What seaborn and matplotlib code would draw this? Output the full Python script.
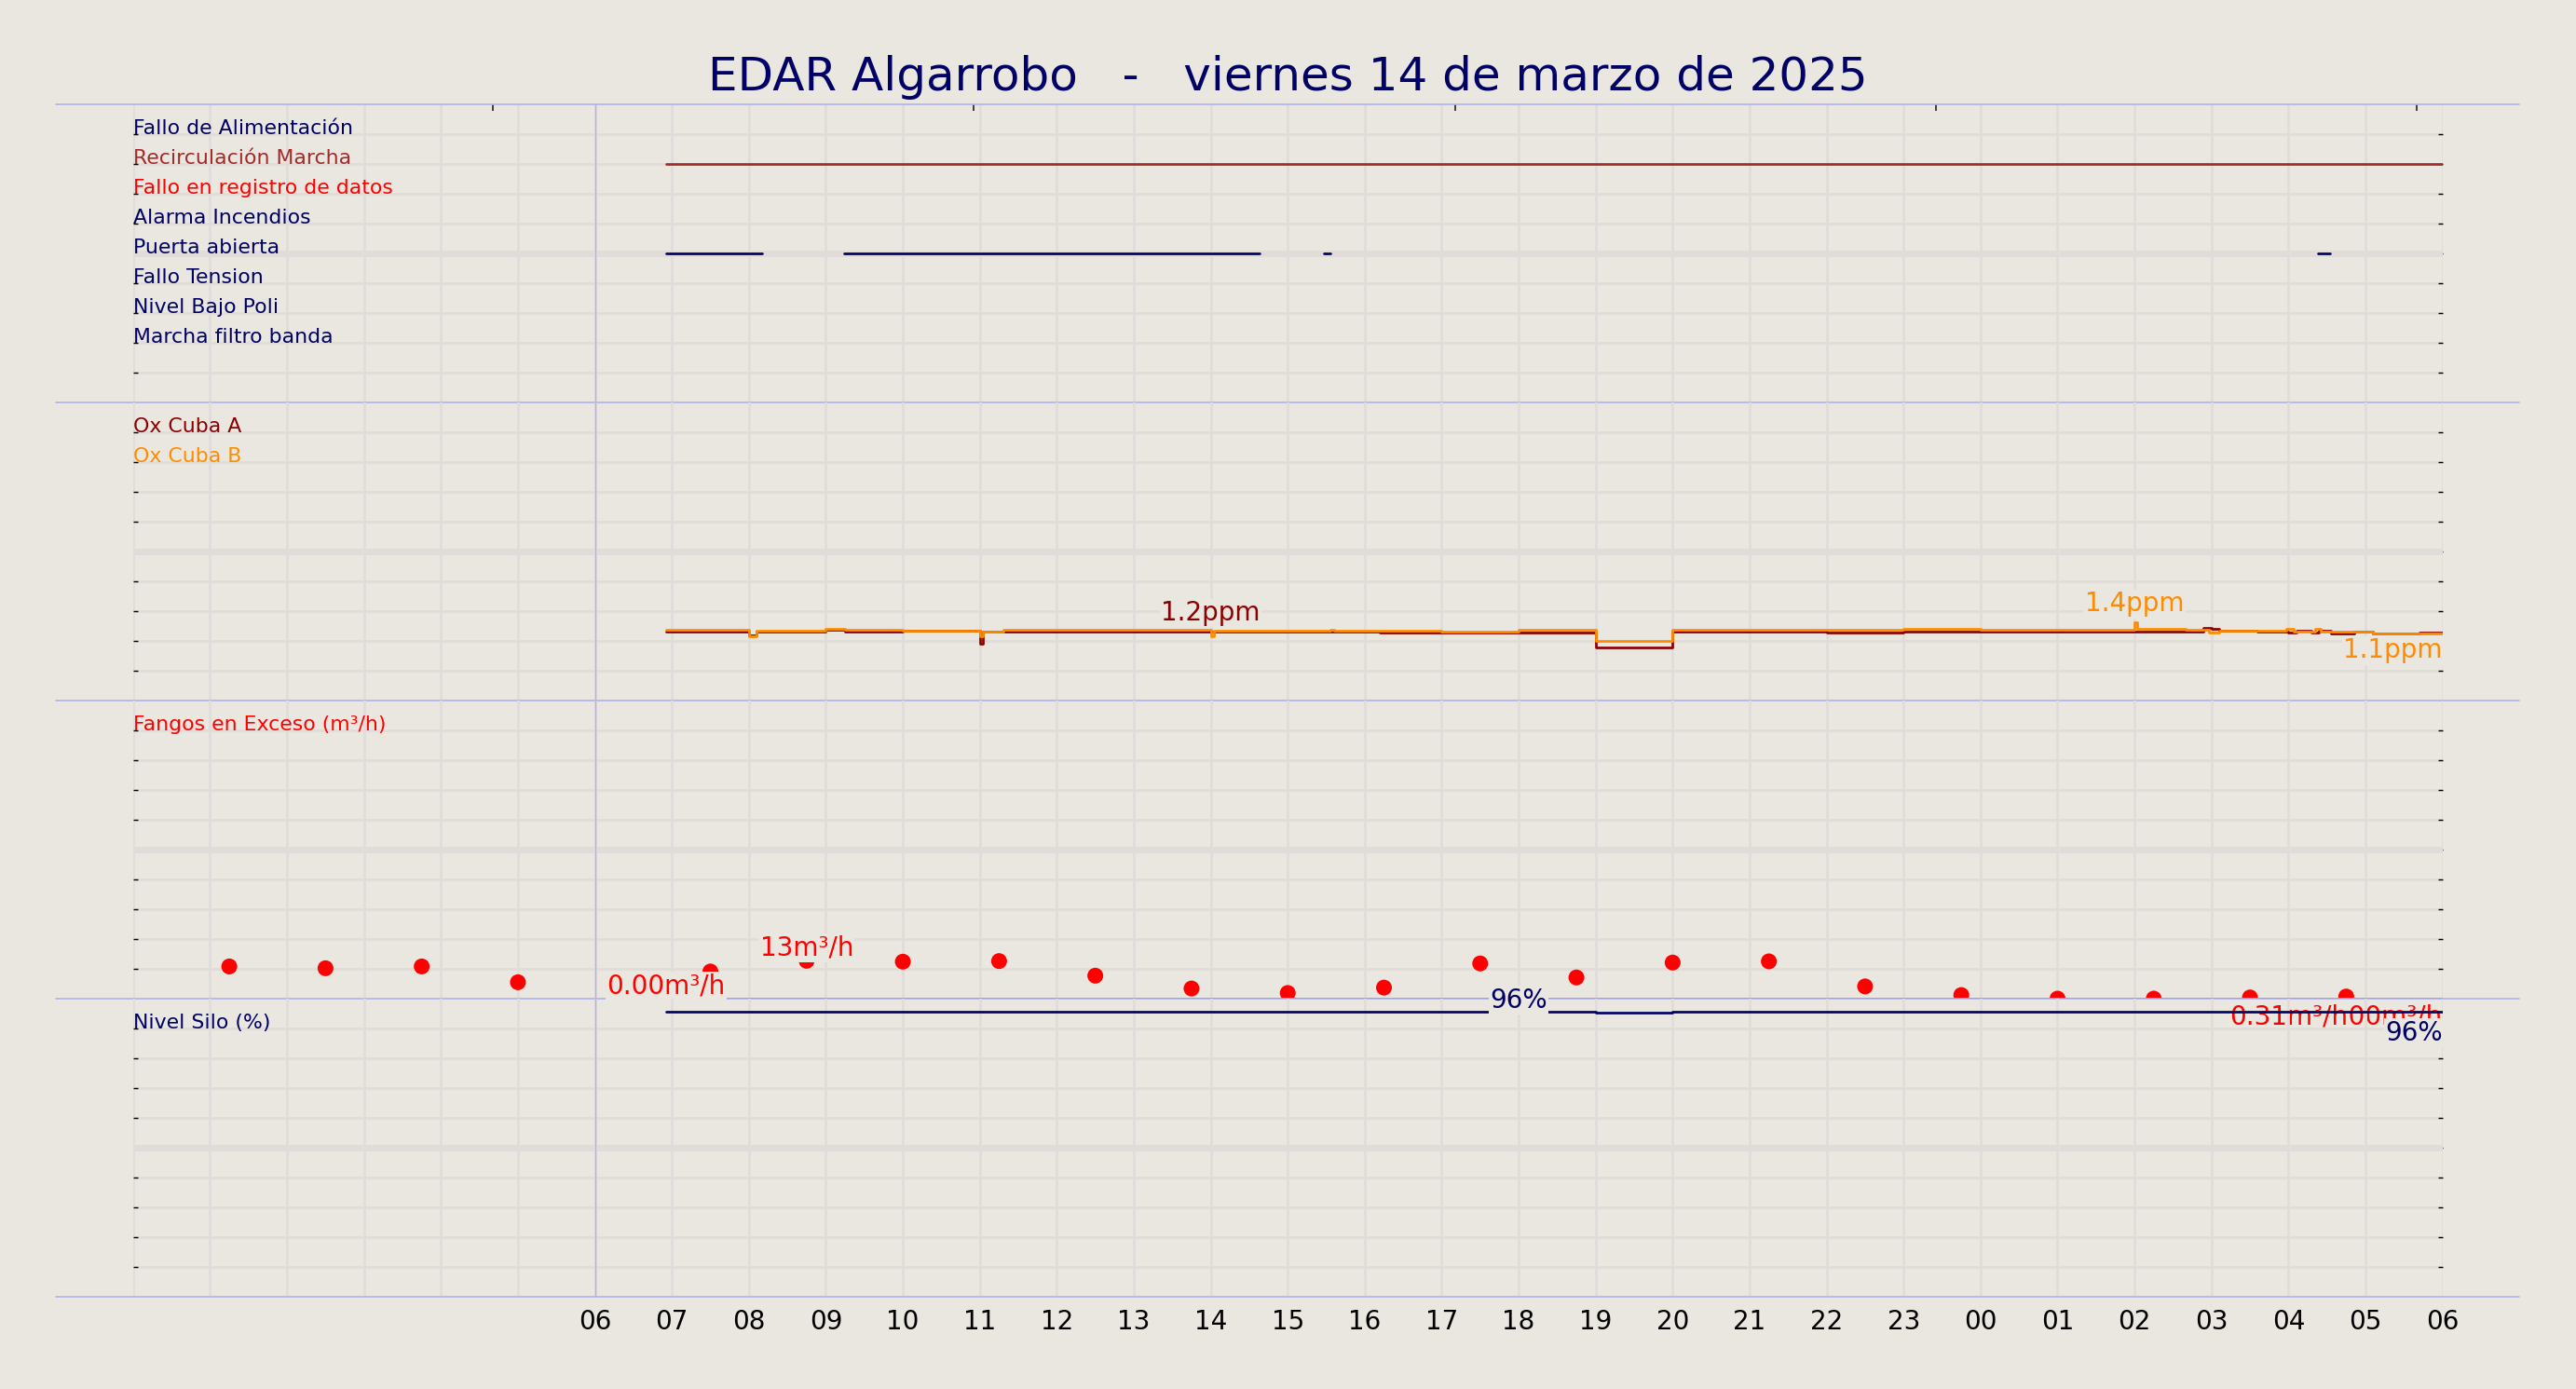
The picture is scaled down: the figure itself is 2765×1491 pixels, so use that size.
import numpy as np
import pandas as pd
import matplotlib
matplotlib.use("Agg")
import matplotlib.pyplot as plt
import seaborn as sns

# ------------------------------------------------------------------ data
TITLE = "EDAR Algarrobo   -   viernes 14 de marzo de 2025"

hour_ticks = list(range(0, 31))
hour_labels = ["", "", "", "", "", "",
               "06", "07", "08", "09", "10", "11", "12", "13", "14", "15",
               "16", "17", "18", "19", "20", "21", "22", "23",
               "00", "01", "02", "03", "04", "05", "06"]

status_names = ["Fallo de Alimentación", "Recirculación Marcha",
                "Fallo en registro de datos", "Alarma Incendios",
                "Puerta abierta", "Fallo Tension", "Nivel Bajo Poli",
                "Marcha filtro banda"]
status_colors = ["#000066", "#a52a2a", "#ff0000", "#000066",
                 "#000066", "#000066", "#000066", "#000066"]
status_levels = [9, 8, 7, 6, 5, 4, 3, 2]

recirc_start = [6.92]
recirc_end = [30.0]
puerta_start = [6.92, 9.24, 15.47, 28.38]
puerta_end = [8.17, 14.63, 15.55, 28.54]

oxa_t = [6.92, 8.0, 8.1, 9.0, 9.25, 10.0, 11.0, 11.04, 11.3, 14.0, 16.2,
         17.0, 18.0, 19.0, 20.0, 22.0, 23.0, 26.0, 26.9, 27.0, 27.1, 27.6,
         28.0, 28.1, 28.3, 28.4, 28.55, 28.85, 29.1, 29.7, 30.0]
oxa_v = [1.158, 1.10, 1.16, 1.185, 1.16, 1.18, 0.96, 1.16, 1.158, 1.158, 1.142,
         1.15, 1.15, 0.89, 1.158, 1.145, 1.158, 1.158, 1.23, 1.2, 1.17, 1.165,
         1.145, 1.175, 1.145, 1.17, 1.135, 1.165, 1.125, 1.142, 1.142]

oxb_t = [6.92, 8.0, 8.1, 9.0, 9.25, 10.0, 11.0, 11.04, 11.3, 14.0, 14.04,
         15.55, 15.6, 17.0, 18.0, 19.0, 20.0, 23.0, 24.0, 26.0, 26.04, 26.67,
         26.97, 27.1, 27.97, 28.07, 28.35, 28.42, 29.1, 30.0]
oxb_v = [1.188, 1.085, 1.177, 1.21, 1.185, 1.182, 1.09, 1.16, 1.185, 1.078,
         1.18, 1.195, 1.177, 1.156, 1.19, 1.0, 1.19, 1.21, 1.19, 1.32, 1.21,
         1.19, 1.146, 1.177, 1.21, 1.165, 1.2, 1.165, 1.13, 1.13]

fangos_t = [1.25, 2.5, 3.75, 5.0, 6.25, 7.5, 8.75, 10.0, 11.25, 12.5, 13.75,
            15.0, 16.25, 17.5, 18.75, 20.0, 21.25, 22.5, 23.75, 25.0, 26.25,
            27.5, 28.75]
fangos_v = [10.9, 10.3, 10.9, 5.6, 4.5, 9.2, 12.8, 12.5, 12.7, 7.8, 3.5,
            2.0, 3.8, 11.9, 7.2, 12.2, 12.6, 4.2, 1.3, 0.1, 0.1, 0.5, 0.8]

flow_t = [6.92, 30.0]
flow_v = [0.0, 0.0]

silo_t = [6.92, 19.0, 20.0, 30.0]
silo_v = [95.6, 95.3, 95.6, 95.6]

top_tick_hours = [4.67, 10.92, 17.17, 23.42, 29.67]

# ------------------------------------------------------------------ style
BG = "#eae6e0"
GRID = "#e1dcda"
BLUE = "#b0b0f6"
NAVY = "#000066"

sns.set_style("white")
plt.rcParams["font.family"] = ["DejaVu Sans"]

fig = plt.figure(figsize=(27.65, 14.91), dpi=100, facecolor=BG)
L, W, H = 0.05165, 0.8965, 0.21462
TOP = 0.92468
axes = [fig.add_axes([L, TOP - (i + 1) * H, W, H]) for i in range(4)]
ax_st, ax_ox, ax_fg, ax_si = axes
ymaxes = [10, 5, 100, 100]


def style(ax, ymax, top_sep=False):
    ax.set_facecolor("none")
    for s in ax.spines.values():
        s.set_visible(False)
    ax.set_xlim(0, 30)
    ax.set_ylim(0, ymax)
    step = ymax / 10
    ax.set_yticks([step * i for i in range(1, 10)])
    ax.set_xticks(hour_ticks)
    ax.set_xticklabels([])
    ax.tick_params(axis="y", which="major", left=True, right=True,
                   direction="in", length=3.4, width=1.0, color="black",
                   labelleft=False, labelright=False)
    ax.tick_params(axis="x", which="major", length=0, labelbottom=False)
    ax.grid(True, which="major", color=GRID, linewidth=2.0)
    ax.set_axisbelow(True)
    ax.axhline(ymax / 2, color=GRID, lw=5, zorder=0.6)
    ax.axhline(0, color=GRID, lw=2, zorder=0.6)
    ax.axvline(6, color=BLUE, lw=1.0, zorder=0.8)
    ax.axhline(0, xmin=-0.0334, xmax=1.0332, color=BLUE, lw=1.2,
               clip_on=False, zorder=2.5)
    if top_sep:
        ax.axhline(ymax, xmin=-0.0334, xmax=1.0332, color=BLUE, lw=1.2,
                   clip_on=False, zorder=2.5)


for i, (ax, ym) in enumerate(zip(axes, ymaxes)):
    style(ax, ym, top_sep=(i == 0))


def label(ax, text, xy, color, ha, va, dy, z=3):
    ax.annotate(text, xy=xy, xytext=(0, dy), textcoords="offset points",
                ha=ha, va=va, color=color, fontsize=20, zorder=z,
                bbox=dict(boxstyle="square,pad=0.05", fc=BG, ec="none"))


def step_line(ax, t, v, color, lw=1.95, z=2):
    df = pd.DataFrame({"t": t, "v": v})
    sns.lineplot(data=df, x="t", y="v", ax=ax, color=color, linewidth=lw,
                 drawstyle="steps-post", estimator=None, sort=False,
                 legend=False, zorder=z)


def segments(ax, starts, ends, level, color):
    rows = []
    for k, (s, e) in enumerate(zip(starts, ends)):
        rows.append({"t": s, "y": level, "seg": k})
        rows.append({"t": e, "y": level, "seg": k})
    df = pd.DataFrame(rows)
    sns.lineplot(data=df, x="t", y="y", units="seg", estimator=None,
                 ax=ax, color=color, linewidth=1.95, legend=False, zorder=2)


# ------------------------------------------------------------------ status panel
for name, col, lev in zip(status_names, status_colors, status_levels):
    ax_st.text(0, lev, name, ha="left", va="baseline", color=col,
               fontsize=15.8, zorder=3)
segments(ax_st, recirc_start, recirc_end, status_levels[1], status_colors[1])
segments(ax_st, puerta_start, puerta_end, status_levels[4], status_colors[4])
ax_st.set_xticks(top_tick_hours, minor=True)
ax_st.tick_params(axis="x", which="minor", top=True, bottom=False,
                  direction="in", length=5, width=1.2, color="#222222")

# ------------------------------------------------------------------ Ox panel
ax_ox.text(0, 4.5, "Ox Cuba A", ha="left", va="baseline", color="#8b0000",
           fontsize=15.8, zorder=3)
ax_ox.text(0, 4.0, "Ox Cuba B", ha="left", va="baseline", color="#ff8c00",
           fontsize=15.8, zorder=3)
step_line(ax_ox, oxa_t, oxa_v, "#8b0000")
step_line(ax_ox, oxb_t, oxb_v, "#ff8c00", z=2.1)
ia = oxa_t.index(14.0)
label(ax_ox, "1.2ppm", (oxa_t[ia], oxa_v[ia]), "#8b0000", "center", "bottom", 4.5)
ib = int(np.argmax(oxb_v))
label(ax_ox, "1.4ppm", (oxb_t[ib], oxb_v[ib]), "#ff8c00", "center", "bottom", 4)
label(ax_ox, "1.1ppm", (oxb_t[-1], oxb_v[-1]), "#ff8c00", "right", "top", -3)

# ------------------------------------------------------------------ Fangos panel
ax_fg.text(0, 90, "Fangos en Exceso (m³/h)", ha="left", va="baseline",
           color="#ff0000", fontsize=15.8, zorder=3)
step_line(ax_fg, flow_t, flow_v, "#ff0000", lw=1.95, z=2)
sns.scatterplot(x=fangos_t, y=fangos_v, ax=ax_fg, color="#ff0000", s=150,
                edgecolor="none", zorder=2.2, legend=False)
imax = int(np.argmax(fangos_v))
label(ax_fg, "13m³/h", (fangos_t[imax], fangos_v[imax]), "#ff0000",
      "center", "bottom", 0)
label(ax_fg, "0.00m³/h", (flow_t[0], flow_v[0]), "#ff0000", "center",
      "bottom", 0)
label(ax_fg, "0.00m³/h", (flow_t[-1], flow_v[-1]), "#ff0000", "right",
      "top", -3.5, z=3)
label(ax_fg, "0.31m³/h", (28.0, flow_v[-1]), "#ff0000", "center", "top",
      -3.5, z=3.1)

# ------------------------------------------------------------------ Silo panel
ax_si.text(0, 90, "Nivel Silo (%)", ha="left", va="baseline", color=NAVY,
           fontsize=15.8, zorder=3)
step_line(ax_si, silo_t, silo_v, NAVY)
label(ax_si, "96%", (18.0, silo_v[0]), NAVY, "center", "bottom", -1)
label(ax_si, "96%", (silo_t[-1], silo_v[-1]), NAVY, "right", "top", -6, z=3.2)

ax_si.set_xticks(hour_ticks)
ax_si.set_xticklabels(hour_labels)
ax_si.tick_params(axis="x", which="major", labelbottom=True, labelsize=20,
                  pad=9, labelcolor="black")

for ax in axes:
    ax.set_xlabel("")
    ax.set_ylabel("")

fig.text(0.5, 1 - 97.3 / 1491, TITLE, ha="center", va="baseline",
         fontsize=36, color=NAVY)

fig.savefig("out.png", dpi=100, facecolor=BG)
